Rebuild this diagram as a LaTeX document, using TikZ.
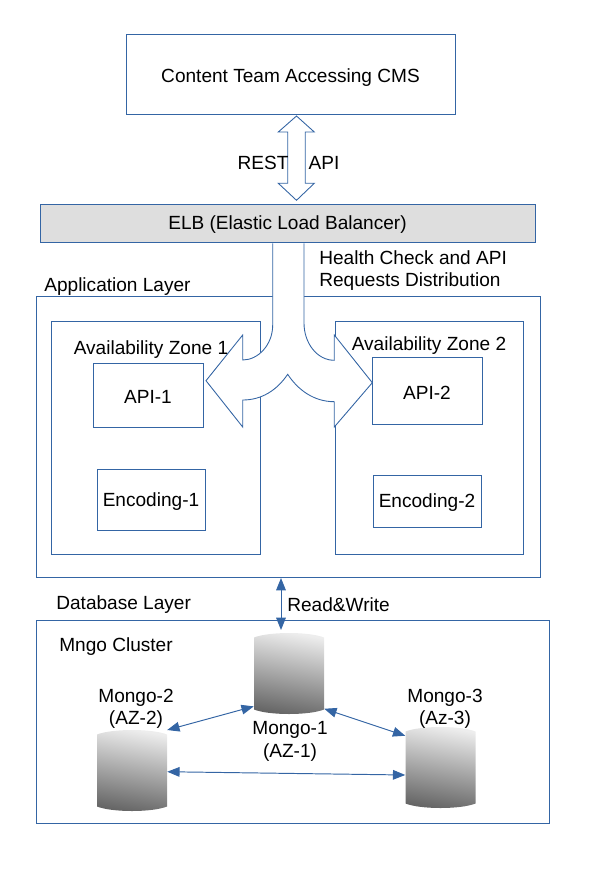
\documentclass[tikz,border=0pt]{standalone}
\usepackage{fontspec}
\setmainfont{Liberation Sans}
\usetikzlibrary{arrows.meta}
\definecolor{linkblue}{HTML}{3465A4}
\tikzset{
  box/.style={draw=linkblue,line width=0.5pt,inner sep=0pt,outer sep=0pt},
  label/.style={inner sep=0pt,align=center,font=\fontsize{10.85}{12.7}\selectfont},
  labelleft/.style={label,anchor=west,align=left},
  link/.style={linkblue,line width=0.55pt,{Triangle[length=7pt,width=5.5pt]}-{Triangle[length=7pt,width=5.5pt]}},
  bigarrow/.style={draw=linkblue,line width=0.5pt,fill=white,line join=miter},
  mongo/.style={inner sep=0pt,outer sep=0pt,minimum width=1.41cm,minimum height=1.62cm},
  mongoshade/.style={top color=white!93!black,bottom color=black!60,shading angle=-10}
}
\begin{document}
\begin{tikzpicture}[x=0.02cm,y=-0.02cm]
    \useasboundingbox (0,0) rectangle (590,880);
    % layers
    \node[box,minimum width=10.08cm,minimum height=5.62cm] (applayer) at (288.5,437) {};
    \node[box,minimum width=4.18cm,minimum height=4.66cm] (zone1) at (155.5,437.5) {};
    \node[box,minimum width=3.76cm,minimum height=4.66cm] (zone2) at (429,437.5) {};
    \node[box,minimum width=10.26cm,minimum height=4.06cm] (dblayer) at (293,721.5) {};
    % top
    \node[box,minimum width=6.58cm,minimum height=1.6cm] (content) at (290.5,74.5) {};
    \node[box,fill=black!13,minimum width=9.9cm,minimum height=0.76cm] (elb) at (287.5,223) {};
    \node[label] (contenttext) at (290.5,77.5) {Content Team Accessing CMS};
    \node[label] (elbtext) at (287.5,225) {ELB (Elastic Load Balancer)};
    % arrows
    \draw[bigarrow] (296.5,116)--(314.3,132)--(305.3,132)--(305.3,183.3)--(314.3,183.3)--(296.5,200.3)
        --(278.3,183.3)--(287.7,183.3)--(287.7,132)--(278.3,132)--cycle;
    \draw[bigarrow] (272.7,243.3)--(272.7,325) .. controls (272.7,345) and (258,360) .. (242.7,360)
        --(242.7,335)--(206,380.7)--(242.7,427)--(242.7,400)
        .. controls (262,400) and (277,390) .. (287.7,374.3)
        .. controls (298,390) and (314,401.7) .. (334.3,401.7)
        --(334.3,427)--(372.3,382.7)--(334.3,335)--(334.3,360.3)
        .. controls (317,360.3) and (304,343) .. (304,323)--(304,243.3);
    % application boxes
    \node[box,minimum width=2.2cm,minimum height=1.28cm] (api1) at (148,395) {};
    \node[box,minimum width=2.2cm,minimum height=1.34cm] (api2) at (427,390.5) {};
    \node[box,minimum width=2.16cm,minimum height=1.22cm] (enc1) at (151,499.5) {};
    \node[box,minimum width=2.16cm,minimum height=1.04cm] (enc2) at (427,501) {};
    \node[label] at (148,397) {API-1};
    \node[label] at (427,392.5) {API-2};
    \node[label] at (151,501.5) {Encoding-1};
    \node[label] at (427,503) {Encoding-2};
    % texts
    \node[label] (resttext) at (263,162.5) {REST};
    \node[label] (apitext) at (324,162.5) {API};
    \node[labelleft] (healthtext) at (319,270.5) {Health Check and API\\Requests Distribution};
    \node[labelleft] (apptext) at (44,287) {Application Layer};
    \node[label] (zone1text) at (151,350) {Availability Zone 1};
    \node[label] (zone2text) at (429,345.5) {Availability Zone 2};
    \node[labelleft] (dbtext) at (56,605) {Database Layer};
    \node[labelleft] (rwtext) at (287,605) {Read\&Write};
    \node[labelleft] (clustertext) at (59,647) {Mngo Cluster};
    % cluster
    \foreach \name/\px/\py in {mongo1/289/673.5,mongo2/132/770.5,mongo3/440.5/767.5}{
        \node[mongo] (\name) at (\px,\py) {};
        \shade[mongoshade] ({\px-35},{\py-36}) .. controls ({\px-20},{\py-42}) and ({\px+20},{\py-42}) .. ({\px+35},{\py-36})
            -- ({\px+35},{\py+36}) .. controls ({\px+20},{\py+42}) and ({\px-20},{\py+42}) .. ({\px-35},{\py+36}) -- cycle;
    }
    \node[label] at (136,708.5) {Mongo-2\\(AZ-2)};
    \node[label] at (290,741.5) {Mongo-1\\(AZ-1)};
    \node[label] at (445,708.5) {Mongo-3\\(Az-3)};
    \coordinate (rwtop) at (281,578);
    \coordinate (rwend) at (281,630);
    \draw[link] (rwtop)--(rwend);
    \draw[link] (mongo2.49)--(mongo1.223);
    \draw[link] (mongo1.315)--(mongo3.138);
    \draw[link] (mongo2.358)--(mongo3.192);
\end{tikzpicture}
\end{document}
